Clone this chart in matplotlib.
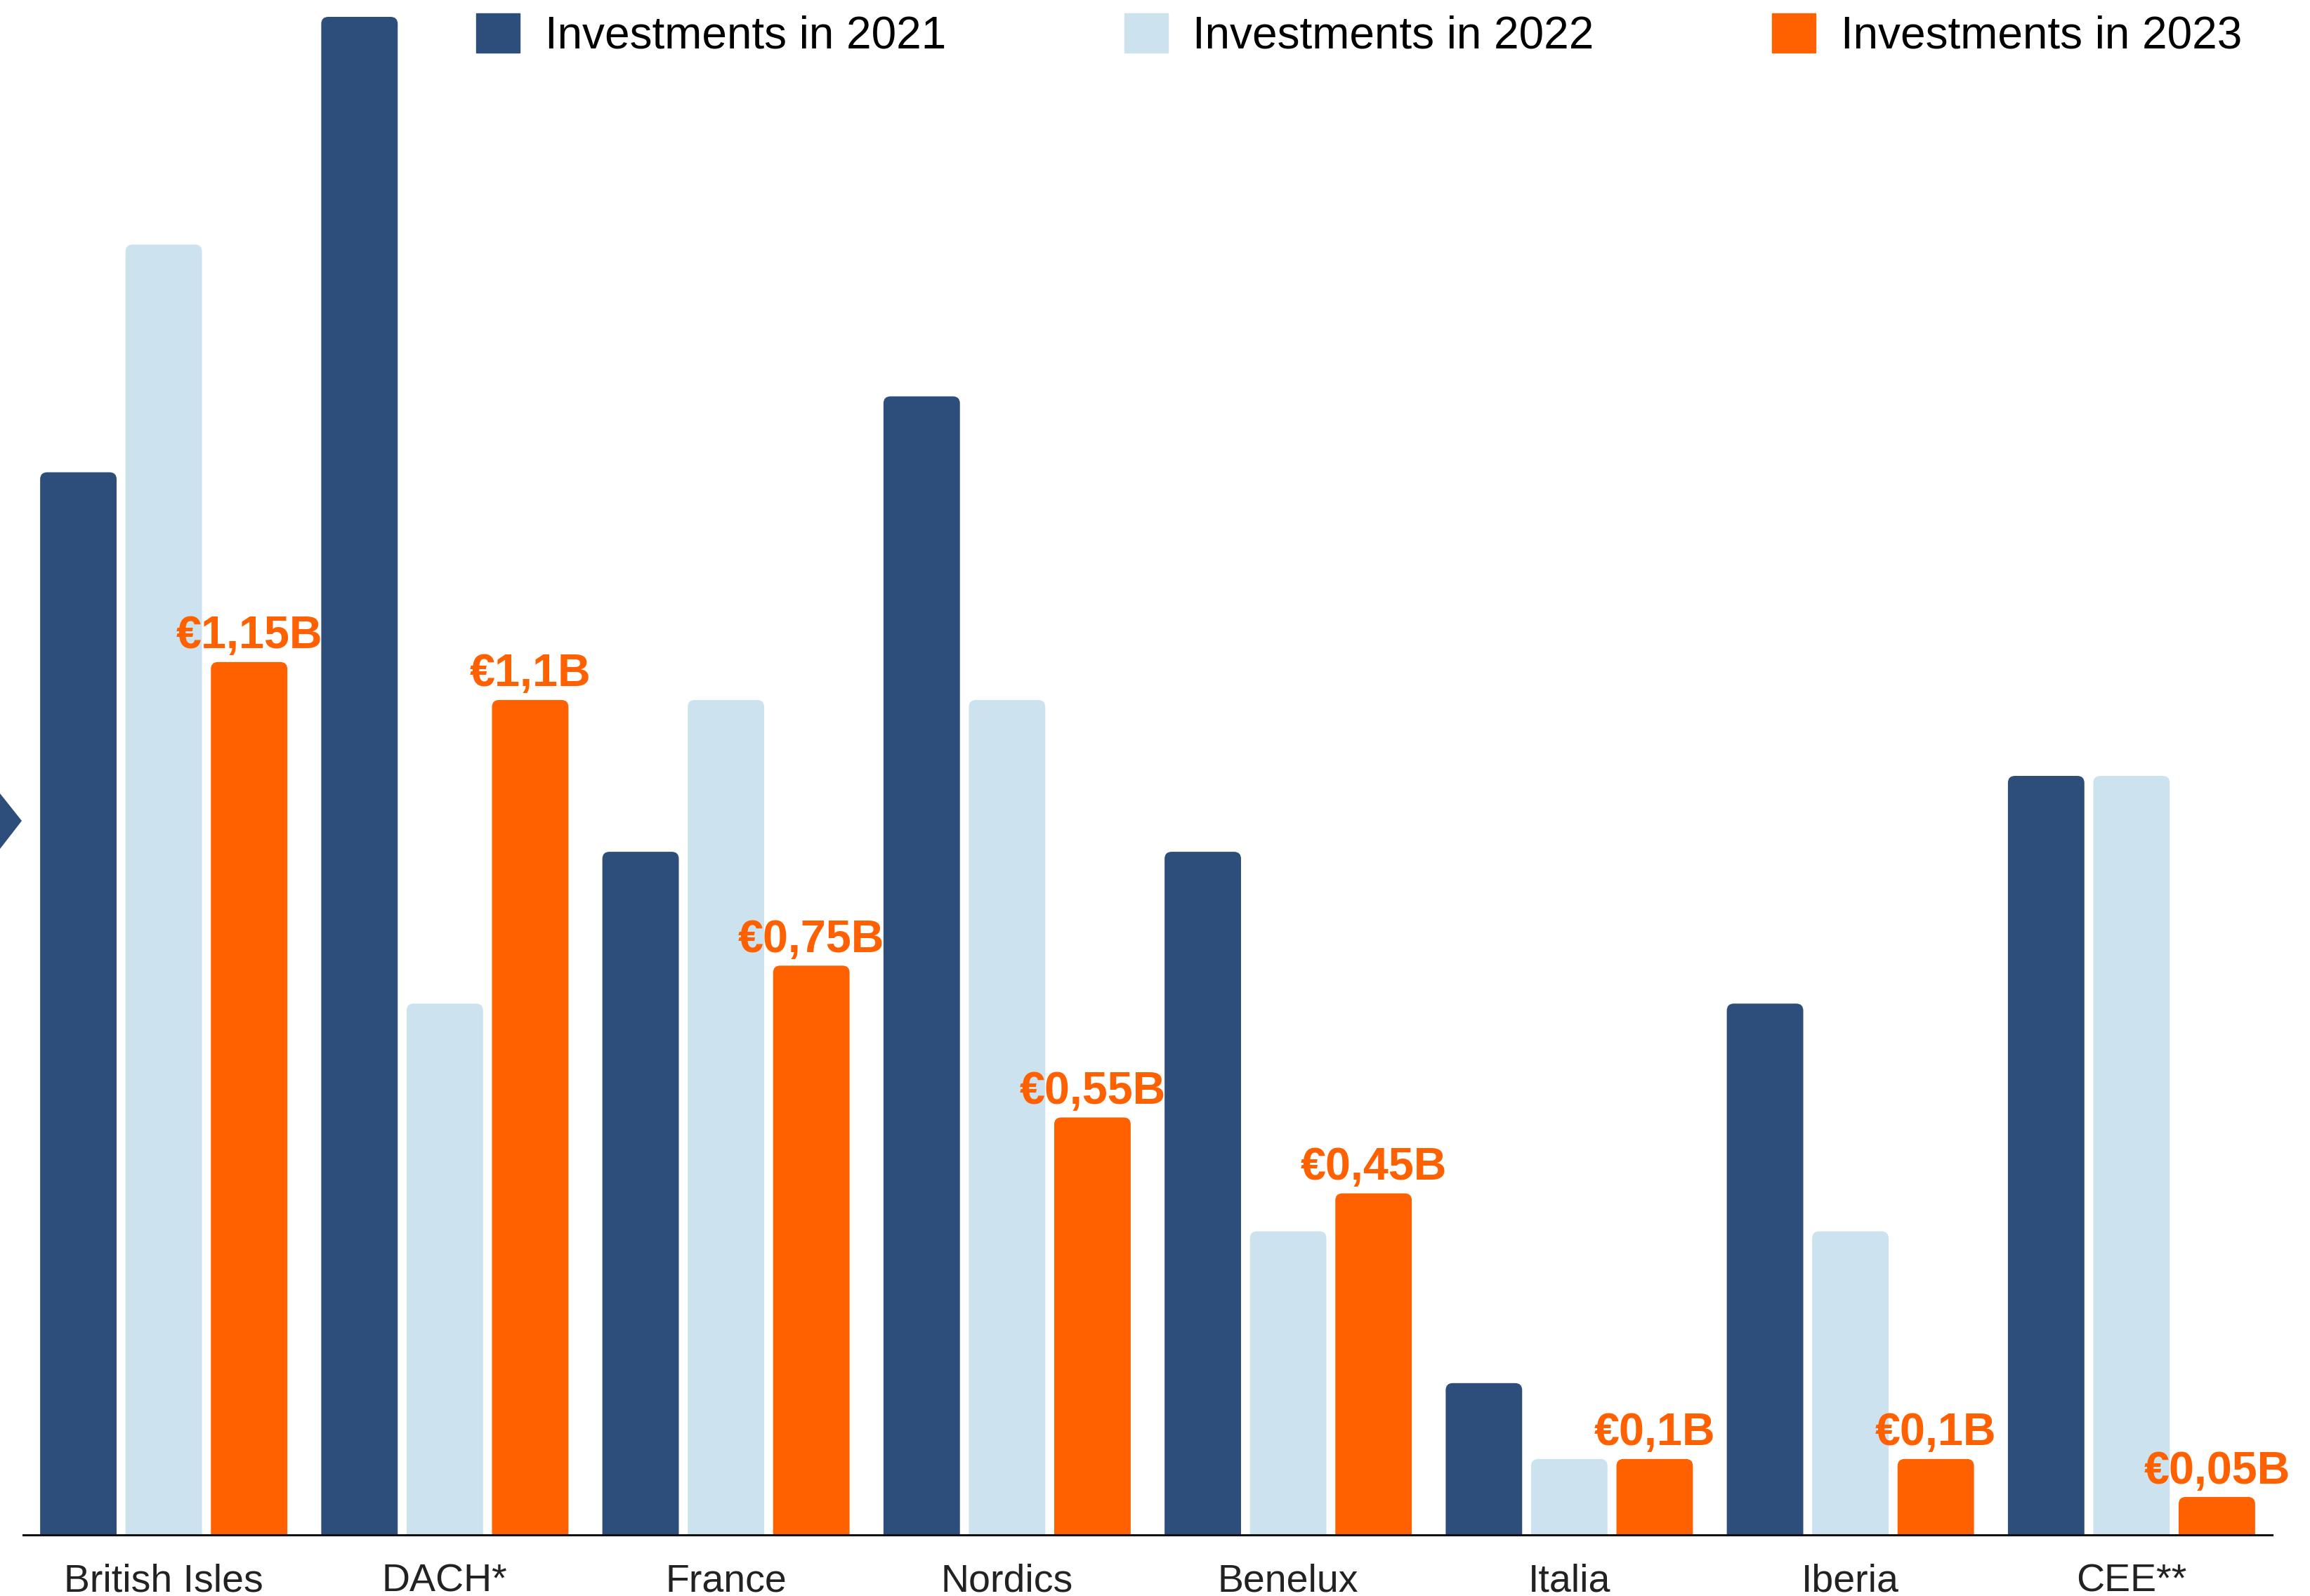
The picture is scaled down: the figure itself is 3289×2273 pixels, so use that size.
import numpy as np
import matplotlib.pyplot as plt
from matplotlib.patches import FancyBboxPatch, Polygon

plt.rcParams['font.family'] = ['Liberation Sans', 'DejaVu Sans']

regions = ["British Isles", "DACH*", "France", "Nordics", "Benelux", "Italia", "Iberia", "CEE**"]
inv_2021 = [1.40, 2.00, 0.90, 1.50, 0.90, 0.20, 0.70, 1.00]
inv_2022 = [1.70, 0.70, 1.10, 1.10, 0.40, 0.10, 0.40, 1.00]
inv_2023 = [1.15, 1.10, 0.75, 0.55, 0.45, 0.10, 0.10, 0.05]
labels_2023 = ["€1,15B", "€1,1B", "€0,75B", "€0,55B", "€0,45B", "€0,1B", "€0,1B", "€0,05B"]
series_names = ["Investments in 2021", "Investments in 2022", "Investments in 2023"]
colors = ["#2d4e7a", "#cce3ef", "#ff6000"]

W, H = 3289, 2273
fig = plt.figure(figsize=(W / 100, H / 100), dpi=100)
ax = fig.add_axes([33 / W, 87 / H, (3235 - 33) / W, (2186 - 24) / H])
ax.set_xlim(-0.5, 7.5)
ax.set_ylim(0, 2.0)

x = np.arange(len(regions))
width = 0.272
step = 0.3037

# rounded top corners: radius ~10px in each direction
rx = 0.025
ry = 0.0093
containers = []
for k, vals in enumerate([inv_2021, inv_2022, inv_2023]):
    bars = ax.bar(x + (k - 1) * step, vals, width, color=colors[k], label=series_names[k])
    containers.append(bars)
    for b in bars:
        bx, bw, bh = b.get_x(), b.get_width(), b.get_height()
        p = FancyBboxPatch((bx, -ry * 2), bw, bh + ry * 2,
                           boxstyle=f"round,pad=0,rounding_size={rx}",
                           mutation_aspect=ry / rx,
                           facecolor=colors[k], edgecolor='none', linewidth=0)
        ax.add_patch(p)
        b.set_visible(False)

for b, txt in zip(containers[2], labels_2023):
    ax.annotate(txt, (b.get_x() + b.get_width() / 2, b.get_height()),
                xytext=(0, 14), textcoords='offset points',
                ha='center', va='baseline', fontsize=46.5, fontweight='bold',
                color=colors[2])

for s in ['top', 'right', 'left']:
    ax.spines[s].set_visible(False)
ax.spines['bottom'].set_linewidth(2.2)
ax.spines['bottom'].set_color('#111111')
ax.set_yticks([])
ax.set_xticks(x)
ax.set_xticklabels(regions, fontsize=40, color='#222222')
ax.tick_params(axis='x', length=0, pad=29)

# legend row
handles = [plt.Rectangle((0, 0), 1, 1, color=c) for c in colors]
fig.legend(handles, series_names, loc='upper left', bbox_to_anchor=(678 / W, 1 - 19 / H),
           ncol=3, frameon=False, fontsize=46, borderpad=0, borderaxespad=0,
           handlelength=0.97, handleheight=0.97, handletextpad=0.56, columnspacing=3.97)

# arrow tab at the left edge
fig.patches.append(Polygon([[0, 1 - 1130 / H], [31 / W, 1 - 1169 / H], [0, 1 - 1209 / H]],
                           closed=True, transform=fig.transFigure, facecolor=colors[0],
                           edgecolor='none'))

fig.savefig("out.png", dpi=100)
